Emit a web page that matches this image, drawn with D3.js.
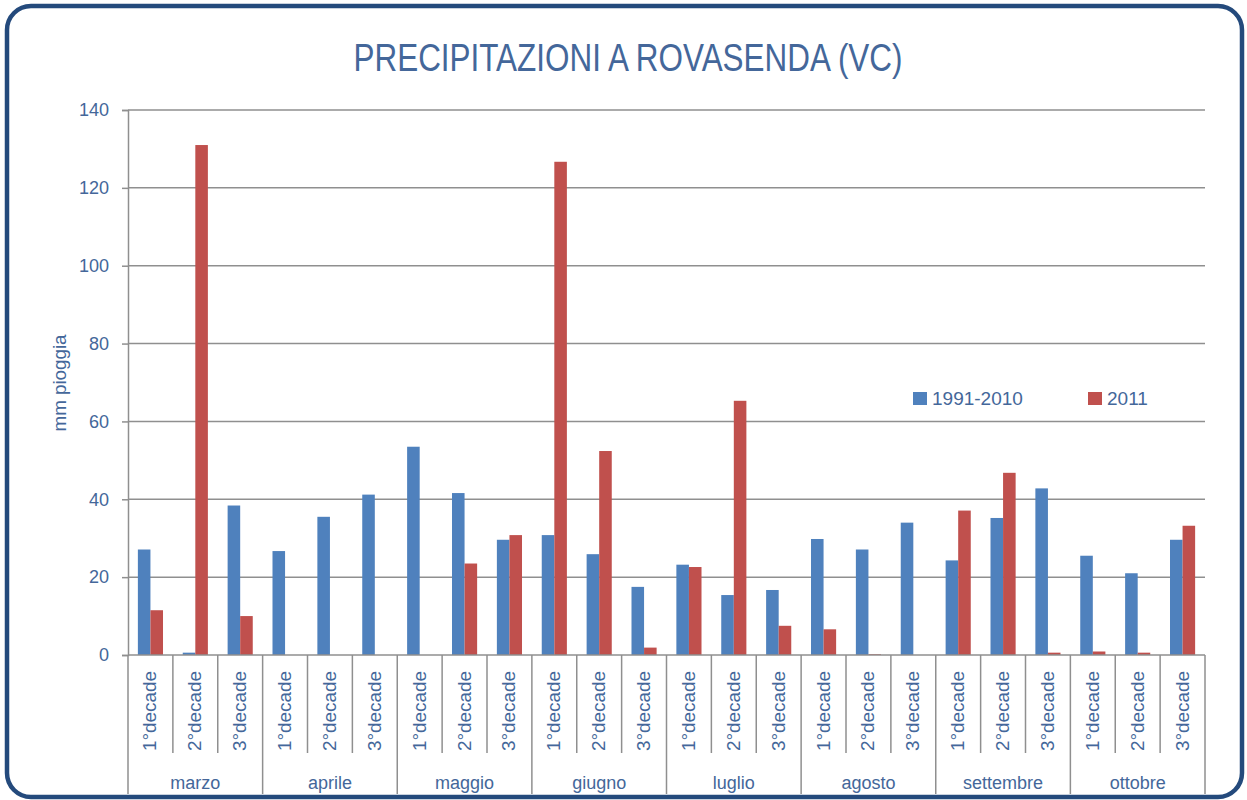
<!DOCTYPE html>
<meta charset="utf-8">
<style>
body { margin: 0; background: #fff; }
.canvas text { font-family: "Liberation Sans Narrow", "Liberation Sans", "DejaVu Sans Condensed", sans-serif; fill: #44679a; }
.title { font-size: 38px; fill: #2b4f81; text-anchor: middle; }
.grid line { stroke: #8f8f8f; stroke-width: 1.5; }
.axis path, .axis line { stroke: #8f8f8f; stroke-width: 1.5; }
.axis text { font-size: 18px; }
</style>
<svg class="canvas"></svg>
<script src="https://cdn.jsdelivr.net/npm/d3@7"></script>
<script>

var months = ["marzo","aprile","maggio","giugno","luglio","agosto","settembre","ottobre"];
var decades = ["1°decade","2°decade","3°decade"];
var series = ["1991-2010","2011"];
var colors = ["#4f81bd","#c0504d"];

var normal = [27.1, 0.6, 38.4, 26.7, 35.5, 41.2, 53.5, 41.6, 29.6, 30.8, 25.9, 17.5,
	23.2, 15.4, 16.7, 29.8, 27.1, 34.0, 24.3, 35.2, 42.8, 25.5, 21.0, 29.6];
var y2011 = [11.5, 131.0, 10.0, 0, 0, 0, 0, 23.5, 30.8, 126.7, 52.4, 1.9,
	22.6, 65.3, 7.5, 6.6, 0.2, 0, 37.1, 46.8, 0.6, 0.9, 0.6, 33.2];
var yTicks = [0, 20, 40, 60, 80, 100, 120, 140];

var width = 1247, height = 800;
var LEFT = 128, RIGHT = 1205, TOP = 110, BASE = 655;

var canvas = d3.select(".canvas")
	.attr("width", width)
	.attr("height", height);

// outer frame
canvas.append("rect")
	.attr("x", 7).attr("y", 6)
	.attr("width", 1235).attr("height", 791)
	.attr("rx", 24).attr("ry", 24)
	.attr("fill", "none")
	.attr("stroke", "#244a7c")
	.attr("stroke-width", 4.5);

canvas.append("text")
	.attr("class", "title")
	.attr("x", 628).attr("y", 71)
	.attr("textLength", 549)
	.attr("lengthAdjust", "spacingAndGlyphs")
	.text("PRECIPITAZIONI A ROVASENDA (VC)");

var cats = [];
months.forEach(function(m) {
	decades.forEach(function(d) { cats.push(m + "|" + d); });
});

var data = cats.map(function(c, i) { return { key: c, vals: [normal[i], y2011[i]] }; });

var x = d3.scaleBand().domain(cats).range([LEFT, RIGHT]).paddingInner(0.44).paddingOuter(0.22);
var xs = d3.scaleBand().domain([0, 1]).range([0, x.bandwidth()]);
var y = d3.scaleLinear().domain([0, 140]).range([BASE, TOP]);
var step = (RIGHT - LEFT) / cats.length;

// gridlines
canvas.append("g").attr("class", "grid")
	.selectAll("line").data(yTicks.slice(1))
	.enter().append("line")
	.attr("x1", LEFT).attr("x2", RIGHT)
	.attr("y1", function(d) { return y(d); })
	.attr("y2", function(d) { return y(d); });

// y axis
var yAxis = canvas.append("g").attr("class", "axis")
	.attr("transform", "translate(" + LEFT + ",0)")
	.call(d3.axisLeft(y).tickValues(yTicks).tickSize(6).tickPadding(13));

canvas.append("text")
	.attr("transform", "translate(66,383) rotate(-90)")
	.attr("text-anchor", "middle")
	.attr("textLength", 97)
	.attr("lengthAdjust", "spacingAndGlyphs")
	.style("font-size", "19px")
	.text("mm pioggia");

// bars
var groups = canvas.selectAll("g.cat").data(data)
	.enter().append("g")
	.attr("class", "cat")
	.attr("transform", function(d) { return "translate(" + x(d.key) + ",0)"; });

groups.selectAll("rect").data(function(d) { return d.vals; })
	.enter().append("rect")
	.attr("x", function(d, i) { return xs(i); })
	.attr("y", function(d) { return y(d); })
	.attr("width", xs.bandwidth())
	.attr("height", function(d) { return BASE - y(d); })
	.attr("fill", function(d, i) { return colors[i]; });

// x axis line
canvas.append("line")
	.attr("x1", LEFT).attr("x2", RIGHT)
	.attr("y1", BASE).attr("y2", BASE)
	.attr("stroke", "#8f8f8f").attr("stroke-width", 1.5);

// separators
var seps = d3.range(cats.length + 1);
canvas.append("g").selectAll("line").data(seps)
	.enter().append("line")
	.attr("x1", function(i) { return LEFT + i * step; })
	.attr("x2", function(i) { return LEFT + i * step; })
	.attr("y1", BASE)
	.attr("y2", function(i) { return i % 3 == 0 ? 794 : 753; })
	.attr("stroke", "#8f8f8f").attr("stroke-width", 1.5);

// decade labels
canvas.append("g").selectAll("text").data(cats)
	.enter().append("text")
	.attr("transform", function(c) {
		return "translate(" + (x(c) + x.bandwidth() / 2 + 6) + ",671) rotate(-90)"; })
	.attr("text-anchor", "end")
	.attr("textLength", 80)
	.attr("lengthAdjust", "spacingAndGlyphs")
	.style("font-size", "18px")
	.text(function(c) { return c.split("|")[1]; });

// month labels
canvas.append("g").selectAll("text").data(months)
	.enter().append("text")
	.attr("x", function(m, i) { return LEFT + (i * 3 + 1.5) * step; })
	.attr("y", 789)
	.attr("text-anchor", "middle")
	.style("font-size", "18px")
	.text(function(m) { return m; });

// legend
var legend = canvas.append("g").selectAll("g").data(series)
	.enter().append("g")
	.attr("transform", function(d, i) { return "translate(" + (913 + i * 175) + ",392)"; });

legend.append("rect")
	.attr("width", 14).attr("height", 13)
	.attr("fill", function(d, i) { return colors[i]; });

legend.append("text")
	.attr("x", 19).attr("y", 13)
	.style("font-size", "19px")
	.text(function(d) { return d; });

</script>
